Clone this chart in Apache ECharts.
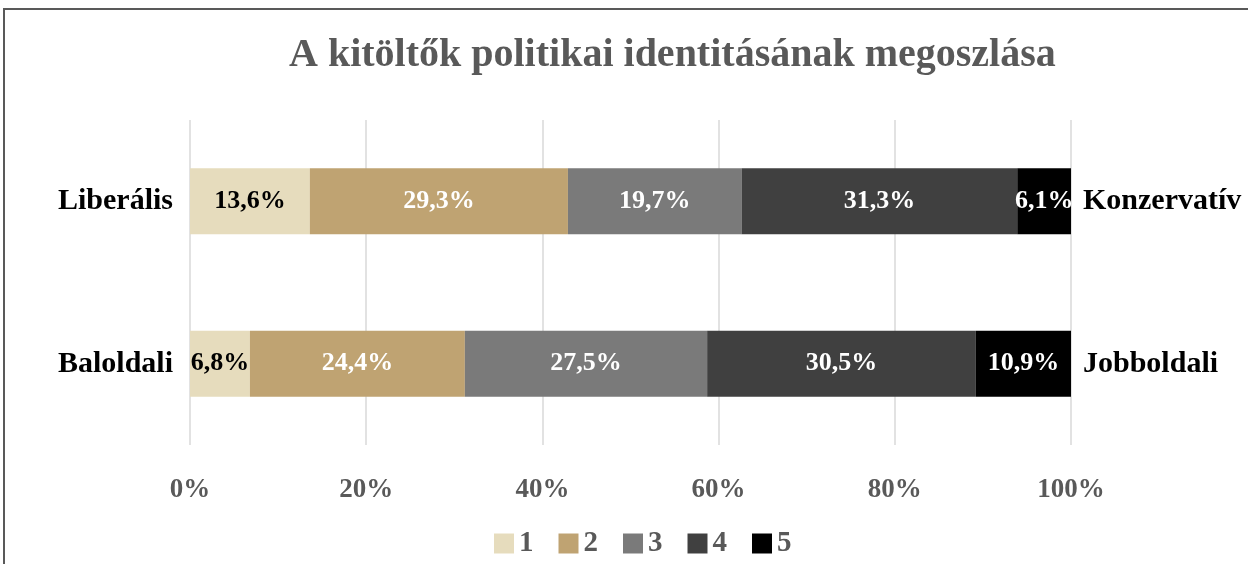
<!DOCTYPE html>
<html><head><meta charset="utf-8">
<script src="https://cdn.jsdelivr.net/npm/echarts@6/dist/echarts.min.js"></script>
<style>html,body{margin:0;padding:0;background:#fff}#c{width:1248px;height:564px}</style>
</head><body><div id="c"></div>
<script>
const leftCats = ['Baloldali', 'Liberális'];
const rightCats = ['Jobboldali', 'Konzervatív'];
const seriesNames = ['1', '2', '3', '4', '5'];
const s1 = [6.8, 13.6];
const s2 = [24.4, 29.3];
const s3 = [27.5, 19.7];
const s4 = [30.5, 31.3];
const s5 = [10.9, 6.1];
const xTicks = [0, 20, 40, 60, 80, 100];

const colors = ['#E6DCBD', '#BFA372', '#7A7A7A', '#404040', '#000000'];
const labelColors = ['#000000', '#ffffff', '#ffffff', '#ffffff', '#ffffff'];
const FONT = 'Liberation Serif';
const vals = [s1, s2, s3, s4, s5];

const chart = echarts.init(document.getElementById('c'));
chart.setOption({
  animation: false,
  title: {
    text: 'A kitöltők politikai identitásának megoszlása',
    left: 284, top: 31,
    textStyle: { fontFamily: FONT, fontWeight: 'bold', fontSize: 40, color: '#595959' }
  },
  graphic: [{
    type: 'rect', shape: { x: 4, y: 9, width: 1300, height: 600 },
    style: { fill: 'none', stroke: '#595959', lineWidth: 2 }, silent: true
  }],
  legend: {
    top: 524, left: 489,
    itemWidth: 20, itemHeight: 20, itemGap: 25,
    icon: 'rect',
    textStyle: { fontFamily: FONT, fontWeight: 'bold', fontSize: 29, color: '#595959' },
    data: seriesNames
  },
  grid: { left: 190, right: 177, top: 120, bottom: 119, containLabel: false },
  xAxis: {
    type: 'value', min: 0, max: 100, interval: 20,
    axisLine: { show: false }, axisTick: { show: false },
    splitLine: { lineStyle: { color: '#D9D9D9', width: 1.5 } },
    axisLabel: {
      margin: 32, fontFamily: FONT, fontWeight: 'bold', fontSize: 27, color: '#595959',
      formatter: v => xTicks.includes(v) ? v + '%' : ''
    }
  },
  yAxis: [{
    type: 'category', data: leftCats, position: 'left',
    axisLine: { show: false }, axisTick: { show: false },
    axisLabel: { margin: 17, fontFamily: FONT, fontWeight: 'bold', fontSize: 30, color: '#000' }
  }, {
    type: 'category', data: rightCats, position: 'right',
    axisLine: { show: false }, axisTick: { show: false },
    axisLabel: { margin: 12, fontFamily: FONT, fontWeight: 'bold', fontSize: 30, color: '#000' }
  }],
  series: seriesNames.map((n, i) => ({
    name: n, type: 'bar', stack: 'all', yAxisIndex: 0,
    data: vals[i], barWidth: 66,
    itemStyle: { color: colors[i] },
    label: {
      show: true, position: 'inside',
      fontFamily: FONT, fontWeight: 'bold', fontSize: 26, color: labelColors[i],
      formatter: p => String(p.value).replace('.', ',') + '%'
    }
  }))
});
</script></body></html>
